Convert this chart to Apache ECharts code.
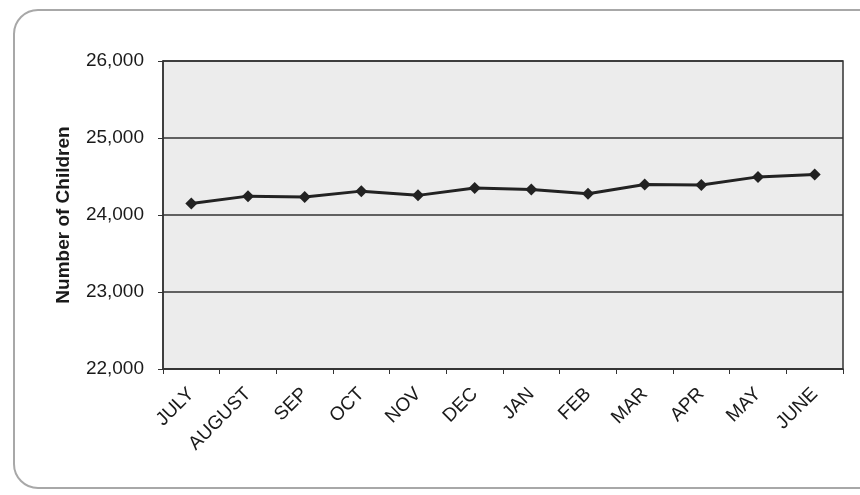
<!DOCTYPE html>
<html>
<head>
<meta charset="utf-8">
<script src="https://cdn.jsdelivr.net/npm/echarts@6/dist/echarts.min.js"></script>
<style>
html,body{margin:0;padding:0;background:#fff;}
#chart{width:860px;height:495px;}
</style>
</head>
<body>
<div id="chart"></div>
<script>
var months = ['JULY','AUGUST','SEP','OCT','NOV','DEC','JAN','FEB','MAR','APR','MAY','JUNE'];
var children = [24150, 24245, 24235, 24310, 24255, 24350, 24330, 24275, 24395, 24390, 24495, 24525];
var yTicks = [22000, 23000, 24000, 25000, 26000];

var chart = echarts.init(document.getElementById('chart'));
chart.setOption({
  animation: false,
  backgroundColor: '#ffffff',
  graphic: [{
    type: 'rect',
    z: -10,
    shape: {x: 14, y: 10, width: 880, height: 478, r: 24},
    style: {fill: 'none', stroke: '#a8a8a8', lineWidth: 2}
  }],
  grid: {left: 163, right: 17, top: 61, bottom: 126, show: true, backgroundColor: '#ececec', borderColor: '#333', borderWidth: 1.5},
  xAxis: {
    type: 'category',
    data: months,
    boundaryGap: true,
    axisLine: {lineStyle: {color: '#333', width: 1.5}},
    axisTick: {show: true, length: 5, lineStyle: {color: '#333'}},
    axisLabel: {rotate: 45, fontFamily: 'Liberation Sans, Arial', fontSize: 19, color: '#1a1a1a', margin: 22, interval: 0}
  },
  yAxis: {
    type: 'value',
    min: yTicks[0],
    max: yTicks[yTicks.length - 1],
    interval: 1000,
    name: 'Number of Children',
    nameLocation: 'middle',
    nameGap: 90,
    nameTextStyle: {fontFamily: 'Liberation Sans, Arial', fontSize: 19, fontWeight: 'bold', color: '#1a1a1a'},
    axisLine: {show: true, lineStyle: {color: '#333', width: 1.5}},
    axisTick: {show: true, length: 5, lineStyle: {color: '#333'}},
    splitLine: {show: true, lineStyle: {color: '#333', width: 1.5}},
    axisLabel: {
      fontFamily: 'Liberation Sans, Arial', fontSize: 19, color: '#1a1a1a', margin: 19,
      formatter: function (v) { return v.toLocaleString('en-US'); }
    }
  },
  series: [{
    type: 'line',
    data: children,
    symbol: 'diamond',
    symbolSize: 12,
    itemStyle: {color: '#222'},
    lineStyle: {color: '#222', width: 3}
  }]
});
</script>
</body>
</html>
